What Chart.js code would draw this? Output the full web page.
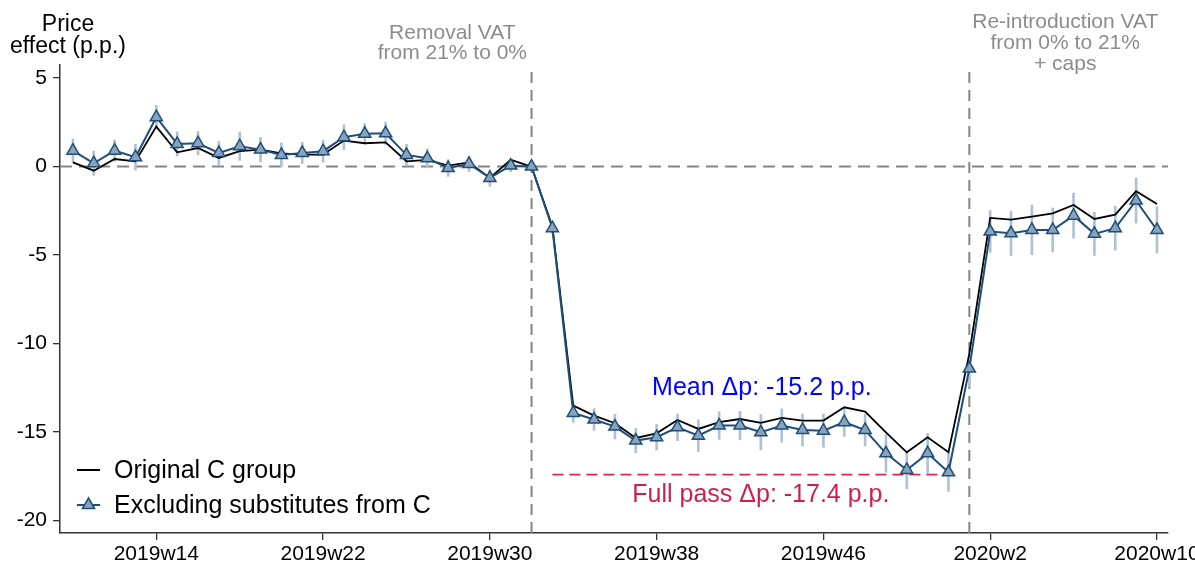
<!DOCTYPE html>
<html lang="en">
<head>
    <meta charset="UTF-8">
    <title>Price effect</title>
    <script src="https://cdn.jsdelivr.net/npm/chart.js"></script>
    <style>
        body { margin: 0; background: #fff; }
        canvas { display: block; }
    </style>
</head>
<body>
    <canvas id="priceChart" width="1195" height="563"></canvas>

    <script>
        const weeks = [
            '2019w10', '2019w11', '2019w12', '2019w13', '2019w14', '2019w15', '2019w16', '2019w17', '2019w18', '2019w19',
            '2019w20', '2019w21', '2019w22', '2019w23', '2019w24', '2019w25', '2019w26', '2019w27', '2019w28', '2019w29',
            '2019w30', '2019w31', '2019w32', '2019w33', '2019w34', '2019w35', '2019w36', '2019w37', '2019w38', '2019w39',
            '2019w40', '2019w41', '2019w42', '2019w43', '2019w44', '2019w45', '2019w46', '2019w47', '2019w48', '2019w49',
            '2019w50', '2019w51', '2019w52', '2020w1', '2020w2', '2020w3', '2020w4', '2020w5', '2020w6', '2020w7',
            '2020w8', '2020w9', '2020w10'
        ];

        // original C group (black line)
        const original = [
            0.24, -0.23, 0.43, 0.30, 2.26, 0.81, 1.05, 0.49, 0.87, 0.96,
            0.75, 0.68, 0.68, 1.47, 1.32, 1.37, 0.30, 0.38, 0.06, 0.24,
            -0.64, 0.38, 0.00, -3.40, -13.50, -14.07, -14.50, -15.33, -15.07, -14.31,
            -14.82, -14.44, -14.26, -14.48, -14.20, -14.35, -14.35, -13.60, -13.84, -15.01,
            -16.14, -15.29, -16.14, -10.57, -2.90, -2.99, -2.82, -2.64, -2.17, -2.96,
            -2.71, -1.39, -2.11
        ];

        // excluding substitutes from C (blue triangles)
        const excluding = [
            0.90, 0.19, 0.90, 0.53, 2.79, 1.28, 1.32, 0.77, 1.15, 0.96,
            0.66, 0.77, 0.87, 1.66, 1.85, 1.88, 0.66, 0.47, -0.08, 0.15,
            -0.64, 0.06, 0.00, -3.48, -13.92, -14.29, -14.69, -15.48, -15.29, -14.73,
            -15.20, -14.63, -14.63, -15.01, -14.63, -14.88, -14.92, -14.44, -14.88, -16.20,
            -17.14, -16.20, -17.27, -11.41, -3.67, -3.77, -3.58, -3.58, -2.77, -3.80,
            -3.48, -1.92, -3.58
        ];

        // half width of the confidence band of the blue series
        const ciHalf = [
            0.66, 0.69, 0.60, 0.73, 0.66, 0.68, 0.66, 0.66, 0.80, 0.69,
            0.68, 0.60, 0.62, 0.70, 0.57, 0.63, 0.60, 0.54, 0.47, 0.44,
            0.47, 0.35, 0.10, 0.30, 0.52, 0.61, 0.70, 0.69, 0.72, 0.75,
            0.90, 0.78, 0.80, 1.00, 0.94, 0.90, 0.94, 0.80, 0.90, 1.06,
            1.06, 1.13, 1.08, 1.00, 1.18, 1.25, 1.40, 1.24, 1.27, 1.22,
            1.24, 1.27, 1.30
        ];

        const xTickLabels = ['2019w14', '2019w22', '2019w30', '2019w38', '2019w46', '2020w2', '2020w10'];
        const yTicks = [-20, -15, -10, -5, 0, 5];

        const removalWeek = '2019w32';
        const reintroWeek = '2020w1';
        const fullPassFrom = '2019w33';
        const fullPassTo = '2019w52';
        const fullPass = -17.4;
        const meanEffect = -15.2;

        const X_MIN = -0.62, X_MAX = 52.53;
        const Y_MIN = -20.7, Y_MAX = 5.74;
        const FONT = "'Liberation Sans', Arial, sans-serif";

        const idx = w => weeks.indexOf(w);
        const xTickPos = xTickLabels.map(idx);

        const navy = '#1f4e79';
        const refGray = '#858585';

        const annotate = {
            id: 'annotate',
            afterDraw(chart) {
                const { ctx, chartArea, scales: { x, y } } = chart;
                ctx.save();
                ctx.textAlign = 'center';
                ctx.textBaseline = 'middle';

                // axis title
                ctx.fillStyle = '#000';
                ctx.font = '23px ' + FONT;
                ctx.fillText('Price', 68, 25);
                ctx.fillText('effect (p.p.)', 68, 47);

                // policy labels
                ctx.fillStyle = '#8c8c8c';
                ctx.font = '21px ' + FONT;
                const rx = x.getPixelForValue(idx(removalWeek) - 3.8);
                ctx.fillText('Removal VAT', rx, chartArea.top - 32);
                ctx.fillText('from 21% to 0%', rx, chartArea.top - 12);
                const ix = x.getPixelForValue(idx(reintroWeek) + 4.6);
                ctx.fillText('Re-introduction VAT', ix, chartArea.top - 43);
                ctx.fillText('from 0% to 21%', ix, chartArea.top - 22);
                ctx.fillText('+ caps', ix, chartArea.top - 1);

                // mean / full pass labels
                ctx.font = '25px ' + FONT;
                ctx.fillStyle = '#0000ff';
                ctx.fillText('Mean \u0394p: ' + meanEffect.toFixed(1) + ' p.p.', x.getPixelForValue(33.05), y.getPixelForValue(-12.54));
                ctx.fillStyle = '#cc1f4f';
                ctx.fillText('Full pass \u0394p: ' + fullPass.toFixed(1) + ' p.p.', x.getPixelForValue(33.0), y.getPixelForValue(-18.58));

                // legend
                ctx.textAlign = 'left';
                ctx.fillStyle = '#000';
                ctx.strokeStyle = '#000';
                ctx.lineWidth = 2;
                ctx.beginPath();
                ctx.moveTo(77, 470);
                ctx.lineTo(100, 470);
                ctx.stroke();
                ctx.fillText('Original C group', 114, 471);

                ctx.strokeStyle = navy;
                ctx.beginPath();
                ctx.moveTo(77, 505);
                ctx.lineTo(100, 505);
                ctx.stroke();
                ctx.beginPath();
                ctx.moveTo(88.5, 498);
                ctx.lineTo(94.6, 508.5);
                ctx.lineTo(82.4, 508.5);
                ctx.closePath();
                ctx.fillStyle = '#8aa2bb';
                ctx.fill();
                ctx.lineWidth = 1.5;
                ctx.stroke();
                ctx.fillStyle = '#000';
                ctx.fillText('Excluding substitutes from C', 114, 506);

                ctx.restore();
            }
        };

        const ctx = document.getElementById('priceChart').getContext('2d');
        new Chart(ctx, {
            type: 'line',
            data: {
                datasets: [
                    {
                        label: 'Excluding substitutes from C',
                        data: excluding.map((v, i) => ({ x: i, y: v })),
                        borderColor: navy,
                        borderWidth: 2,
                        pointStyle: 'triangle',
                        pointRadius: 7,
                        pointBackgroundColor: '#8aa2bb',
                        pointBorderColor: navy,
                        pointBorderWidth: 1.5,
                        tension: 0,
                        order: 0
                    },
                    {
                        label: 'Original C group',
                        data: original.map((v, i) => ({ x: i, y: v })),
                        borderColor: '#000',
                        borderWidth: 1.8,
                        pointRadius: 0,
                        tension: 0,
                        order: 1
                    },
                    {
                        type: 'bar',
                        label: 'ci',
                        data: excluding.map((v, i) => ({ x: i, y: [v - ciHalf[i], v + ciHalf[i]] })),
                        backgroundColor: '#afc1d3',
                        barThickness: 2,
                        grouped: false,
                        order: 2
                    },
                    {
                        label: 'zero',
                        data: [{ x: X_MIN, y: 0 }, { x: X_MAX, y: 0 }],
                        borderColor: refGray,
                        borderWidth: 2,
                        borderDash: [12, 7],
                        pointRadius: 0,
                        order: 3
                    },
                    {
                        label: 'removal',
                        data: [{ x: idx(removalWeek), y: Y_MIN }, { x: idx(removalWeek), y: Y_MAX }],
                        borderColor: refGray,
                        borderWidth: 2,
                        borderDash: [11, 7],
                        pointRadius: 0,
                        order: 3
                    },
                    {
                        label: 'reintro',
                        data: [{ x: idx(reintroWeek), y: Y_MIN }, { x: idx(reintroWeek), y: Y_MAX }],
                        borderColor: refGray,
                        borderWidth: 2,
                        borderDash: [11, 7],
                        pointRadius: 0,
                        order: 3
                    },
                    {
                        label: 'full pass',
                        data: [{ x: idx(fullPassFrom), y: fullPass }, { x: idx(fullPassTo), y: fullPass }],
                        borderColor: '#d0285a',
                        borderWidth: 1.8,
                        borderDash: [11, 6],
                        pointRadius: 0,
                        order: 3
                    }
                ]
            },
            options: {
                responsive: false,
                animation: false,
                devicePixelRatio: 1,
                layout: {
                    padding: { top: 65, right: 27, left: 0, bottom: 0 },
                    autoPadding: false
                },
                plugins: {
                    legend: { display: false },
                    tooltip: { enabled: false }
                },
                scales: {
                    x: {
                        type: 'linear',
                        min: X_MIN,
                        max: X_MAX,
                        offset: false,
                        afterBuildTicks: s => { s.ticks = xTickPos.map(v => ({ value: v })); },
                        afterFit: s => {
                            s.height = 30;
                            s.paddingLeft = 0;
                            s.paddingRight = 0;
                        },
                        ticks: {
                            callback: v => weeks[v],
                            font: { family: FONT, size: 21 },
                            color: '#000',
                            padding: 2,
                            maxRotation: 0,
                            minRotation: 0,
                            autoSkip: false
                        },
                        grid: { offset: false, drawOnChartArea: false, drawTicks: true, tickLength: 7, color: '#333', lineWidth: 1.3 },
                        border: { display: true, color: '#333', width: 1.5 }
                    },
                    y: {
                        min: Y_MIN,
                        max: Y_MAX,
                        afterBuildTicks: s => { s.ticks = yTicks.map(v => ({ value: v })); },
                        afterFit: s => {
                            s.width = 60;
                            s.paddingTop = 0;
                            s.paddingBottom = 0;
                        },
                        ticks: {
                            font: { family: FONT, size: 21 },
                            color: '#000',
                            padding: 6
                        },
                        grid: { drawOnChartArea: false, drawTicks: true, tickLength: 7, color: '#333', lineWidth: 1.3 },
                        border: { display: true, color: '#333', width: 1.5 }
                    }
                }
            },
            plugins: [annotate]
        });
    </script>
</body>
</html>
